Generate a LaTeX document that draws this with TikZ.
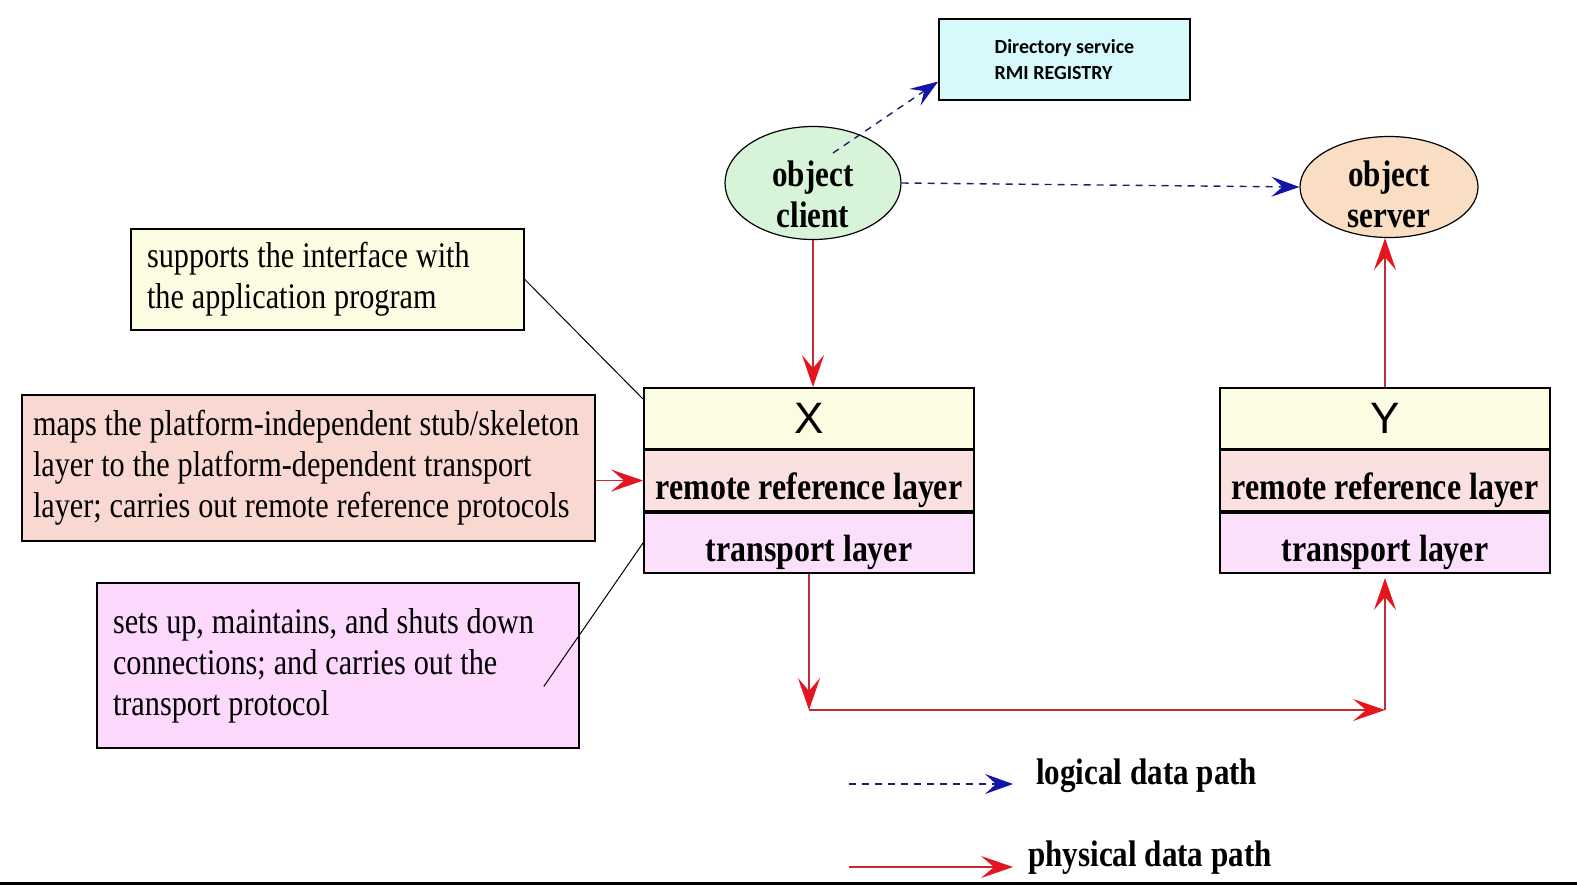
\documentclass[tikz,border=0pt]{standalone}
\usepackage{fontspec}
\setmainfont{Liberation Serif}[FakeStretch=0.84]
\newfontfamily\sansx{Liberation Sans}
\newfontfamily\dirfont{Carlito}
\usepackage{tikz}
\usetikzlibrary{arrows.meta,positioning,shapes.geometric}

\definecolor{dirblue}{RGB}{214,250,252}
\definecolor{clientgreen}{RGB}{216,244,216}
\definecolor{serverpeach}{RGB}{250,222,196}
\definecolor{layeryellow}{RGB}{252,252,226}
\definecolor{layerpink}{RGB}{250,224,222}
\definecolor{layermauve}{RGB}{250,224,250}
\definecolor{notepink}{RGB}{248,216,208}
\definecolor{notemauve}{RGB}{252,216,252}
\definecolor{logicblue}{RGB}{30,30,110}
\definecolor{tipblue}{RGB}{20,20,170}
\definecolor{physline}{RGB}{195,45,45}
\definecolor{physred}{RGB}{230,20,30}

\begin{document}
\begin{tikzpicture}[>=Stealth, x=1pt, y=-1pt]
        \tikzstyle{layernode}=[rectangle, draw=black, line width=1.8pt, minimum width=330pt, minimum height=60.5pt, inner sep=0pt, font=\fontsize{38}{41}\selectfont\bfseries]
        \tikzstyle{lowtext}=[text height=44pt, text depth=6pt]
        \tikzstyle{notenode}=[rectangle, draw=black, line width=1.6pt, align=left, inner xsep=16pt, font=\fontsize{36}{41}\selectfont, execute at begin node={\spaceskip=0.22em\relax}]
        \tikzstyle{objnode}=[ellipse, draw=black, line width=1.2pt, inner sep=0pt]
        \tikzstyle{objtext}=[align=center, inner sep=2pt, font=\fontsize{37}{41}\selectfont\bfseries]
        \tikzstyle{logical}=[draw=logicblue, line width=1.4pt, dash pattern=on 7pt off 6pt, -{Stealth[length=28pt, width=20pt, inset=11pt, color=tipblue]}]
        \tikzstyle{physical}=[draw=physline, line width=1.6pt, -{Stealth[length=32pt, width=22pt, inset=13pt, color=physred]}]
        \fill[white] (0,0) rectangle (1577,895);
        \useasboundingbox (0,0) rectangle (1577,895);
        % directory and the two objects
        \node[rectangle, draw=black, line width=1.6pt, fill=dirblue, minimum width=251pt, minimum height=81pt, align=left, font=\dirfont\fontsize{20}{26}\selectfont\bfseries] (dir) at (1064.5,59.5) {Directory service\\RMI REGISTRY};
        \node[objnode, fill=clientgreen, minimum width=176pt, minimum height=113pt] (client) at (813,183) {};
        \node[objtext] (clienttxt) at (813,194) {object\\client};
        \node[objnode, fill=serverpeach, minimum width=178pt, minimum height=101pt] (server) at (1389,187) {};
        \node[objtext] (servertxt) at (1389,194) {object\\server};
        % layer stacks
        \node[layernode, fill=layeryellow, font=\sansx\fontsize{44}{44}\selectfont] (xtop) at (809,418.25) {X};
        \node[layernode, lowtext, fill=layerpink, below=0pt of xtop] (xrr) {remote reference layer};
        \node[layernode, lowtext, fill=layermauve, below=0pt of xrr] (xtr) {transport layer};
        \node[layernode, fill=layeryellow, font=\sansx\fontsize{44}{44}\selectfont] (ytop) at (1385,418.25) {Y};
        \node[layernode, lowtext, fill=layerpink, below=0pt of ytop] (yrr) {remote reference layer};
        \node[layernode, lowtext, fill=layermauve, below=0pt of yrr] (ytr) {transport layer};
        % notes on the left
        \node[notenode, fill=layeryellow, minimum width=393pt, minimum height=101pt, text width=361pt] (note1) at (327.5,279.5) {supports the interface with\\the application program};
        \node[notenode, fill=notepink, minimum width=573pt, minimum height=146pt, inner xsep=11pt, text width=551pt] (note2) at (308.5,468) {maps the platform-independent stub/skeleton\\layer to the platform-dependent transport\\layer; carries out remote reference protocols};
        \node[notenode, fill=notemauve, minimum width=482pt, minimum height=165pt, text width=450pt] (note3) at (338,665.5) {sets up, maintains, and shuts down\\connections; and carries out the\\transport protocol};
        % logical path
        \draw[logical] ([shift={(20,-30)}]client.center) -- ([yshift=-22pt]dir.west);
        \draw[logical] (client.east) -- (server.west);
        % physical path
        \coordinate (xlow) at ([yshift=-136pt]xtr.south);
        \coordinate (ylow) at (ytr.south |- xlow);
        \draw[physical] (client.south) -- (client.south |- xtop.north);
        \draw[physical] (ytop.north) -- (ytop.north |- server.south);
        \draw[physical] (xtr.south) -- (xlow);
        \draw[physical] (xlow) -- (ylow);
        \draw[physical] (ylow) -- ([yshift=-4pt]ytr.south);
        % note pointers
        \draw[line width=1pt] (note1.east) -- ([yshift=-12pt]xtop.north west);
        \draw[physical] (note2.east |- xrr.west) -- (xrr.west);
        \draw[line width=1pt] ([shift={(-36,21)}]note3.east) -- (xtr.west);
        % legend
        \coordinate (lgstart) at (849,784);
        \coordinate (lgend) at (1013,784);
        \coordinate (pgstart) at (849,867);
        \coordinate (pgend) at (1013,867);
        \node[objtext, anchor=west, right=185pt of lgstart, yshift=8pt] (lgtxt) {logical data path};
        \node[objtext, anchor=west, right=177pt of pgstart, yshift=9pt] (pgtxt) {physical data path};
        \draw[logical] (lgstart) -- (lgend);
        \draw[physical] (pgstart) -- (pgend);
        \draw[line width=3pt] (0,883) -- (1577,883);
    \end{tikzpicture}
\end{document}
